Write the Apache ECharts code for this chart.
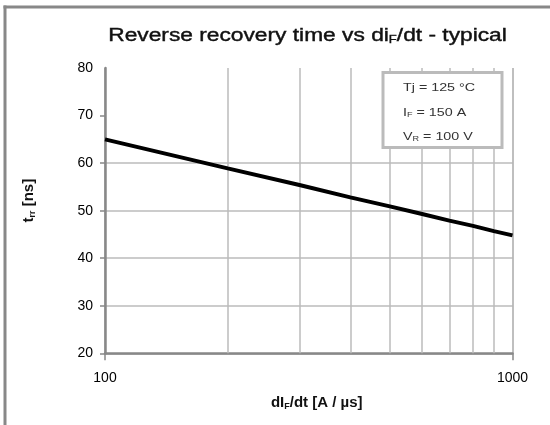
<!DOCTYPE html>
<html><head><meta charset="utf-8">
<script src="https://cdn.jsdelivr.net/npm/echarts@6/dist/echarts.min.js"></script>
<style>html,body{margin:0;padding:0;background:#fff}#c{width:550px;height:425px}</style>
</head><body><div id="c"></div>
<script>
const diF = [100, 200, 300, 400, 500, 600, 700, 800, 900, 1000];
const trr = [65.0, 58.9, 55.4, 52.8, 50.9, 49.3, 47.9, 46.8, 45.7, 44.8];
const minorGridX = [200, 300, 400, 500, 600, 700, 800, 900];
const yTicks = [20, 30, 40, 50, 60, 70];
const titleText = 'Reverse recovery time vs di{sub|F}/dt - typical';
const condLines = ['Tj = 125 °C', 'I{sub|F} = 150 A', 'V{sub|R} = 100 V'];

const FONT = 'Liberation Sans, Arial, sans-serif';
const subRich = (fs, pad) => ({ sub: { fontSize: fs, verticalAlign: 'bottom', padding: [pad, 0, 0, 0], fill: '#333', fontFamily: FONT } });
const chart = echarts.init(document.getElementById('c'));
chart.setOption({
  animation: false,
  grid: { left: 105, right: 37.5, top: 68, bottom: 71.7 },
  xAxis: {
    type: 'log', logBase: 10, min: 100, max: 1000,
    name: 'dI{sub|F}/dt [A / µs]', nameLocation: 'middle', nameGap: 42,
    nameTextStyle: {
      fontFamily: FONT, fontSize: 15, fontWeight: 'bold', color: '#111',
      padding: [0, 0, 0, 16],
      rich: { sub: { fontSize: 9, fontWeight: 'bold', verticalAlign: 'bottom', padding: [7, 0, 0, 0], fontFamily: FONT, color: '#111' } }
    },
    axisLine: { show: true, lineStyle: { color: '#888', width: 2.5 } },
    axisTick: { show: true, length: 7, lineStyle: { color: '#888', width: 1.5 } },
    axisLabel: { fontFamily: FONT, fontSize: 14, color: '#000', margin: 18, formatter: v => String(Math.round(v)) },
    splitLine: { show: true, lineStyle: { color: '#aaa', width: 1.5 } },
    minorTick: { show: false }
  },
  yAxis: {
    type: 'value', min: 20, max: 80, interval: 10,
    name: 't{sub|rr} [ns]', nameLocation: 'middle', nameGap: 68, nameRotate: 90,
    nameTextStyle: {
      fontFamily: FONT, fontSize: 15, fontWeight: 'bold', color: '#111',
      padding: [0, 0, 0, 20],
      rich: { sub: { fontSize: 9, fontWeight: 'bold', verticalAlign: 'bottom', padding: [7, 0, 0, 0], fontFamily: FONT, color: '#111' } }
    },
    axisLine: { show: true, lineStyle: { color: '#888', width: 2.5 } },
    axisTick: { show: true, length: 5, customValues: yTicks, lineStyle: { color: '#888', width: 1.5 } },
    axisLabel: { fontFamily: FONT, fontSize: 14, color: '#000', margin: 12 },
    splitLine: { show: true, showMaxLine: false, lineStyle: { color: '#bbb', width: 1.5 } }
  },
  series: [{
    type: 'line',
    data: diF.map((x, i) => [x, trr[i]]),
    showSymbol: false, symbol: 'none', smooth: false,
    lineStyle: { color: '#000', width: 4 },
    z: 5,
    markLine: {
      silent: true, symbol: 'none', animation: false,
      label: { show: false },
      lineStyle: { color: '#bbb', width: 1.5, type: 'solid' },
      data: minorGridX.map(v => ({ xAxis: v }))
    }
  }],
  graphic: [
    { type: 'line', shape: { x1: 5, y1: 5.5, x2: 5, y2: 425 }, style: { stroke: '#888', lineWidth: 3 } },
    { type: 'line', shape: { x1: 3.5, y1: 7, x2: 550, y2: 7 }, style: { stroke: '#888', lineWidth: 3 } },
    { type: 'text', x: 307.5, y: 36, scaleX: 1.3, scaleY: 1,
      style: { text: titleText, x: 0, y: 0, align: 'center', verticalAlign: 'middle',
        font: '17.5px ' + FONT, fill: '#111', stroke: '#111', lineWidth: 0.4,
        rich: { sub: { fontSize: 10, verticalAlign: 'bottom', padding: [8, 0, 0, 0], fill: '#111', fontFamily: FONT } } } },
    { type: 'rect', z: 100, shape: { x: 383, y: 72.5, width: 119, height: 75 },
      style: { fill: '#fff', stroke: '#bbb', lineWidth: 3 } },
    ...condLines.map((t, i) => ({
      type: 'text', z: 101, x: 403, y: 88 + i * 24.5, scaleX: 1.3,
      style: { text: t, x: 0, y: 0, verticalAlign: 'middle', font: '11px ' + FONT, fill: '#333', rich: subRich(7, 5) }
    }))
  ]
});
</script></body></html>
